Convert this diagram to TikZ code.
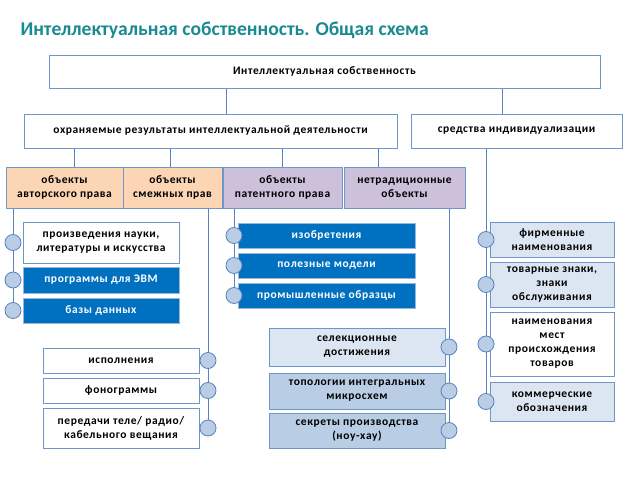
\documentclass[tikz,border=0pt]{standalone}
\usepackage{fontspec}
\setmainfont{Carlito}
\newfontfamily\boxfont[LetterSpace=5]{Carlito}
\usetikzlibrary{positioning}

\definecolor{titleteal}{RGB}{26,138,146}
\definecolor{boxline}{RGB}{110,150,200}
\definecolor{linkc}{RGB}{90,130,190}
\definecolor{peach}{RGB}{252,213,180}
\definecolor{lavender}{RGB}{204,192,218}
\definecolor{deepblue}{RGB}{0,112,192}
\definecolor{paleblue}{RGB}{220,230,242}
\definecolor{midblue}{RGB}{185,205,229}

\begin{document}
\begin{tikzpicture}[x=1pt,y=-1pt,
  box/.style={draw=boxline,line width=1pt,align=center,inner sep=1pt,
    font=\boxfont\bfseries\fontsize{11.5}{14}\selectfont},
  darkbox/.style={box,fill=deepblue,text=white,draw=boxline!70},
  link/.style={draw=linkc,line width=1pt},
  dot/.style={circle,draw=linkc,fill=midblue,line width=0.8pt,minimum size=16pt,inner sep=0pt}]
\useasboundingbox (0,0) rectangle (638,479);

\node[anchor=west,text=titleteal,font=\bfseries\fontsize{19.6}{22}\selectfont] (title) at (17,30) {Интеллектуальная собственность. Общая схема};

\node[box,minimum width=551pt,minimum height=33pt] (ip) at (324.5,71.5) {Интеллектуальная собственность};
\node[box,minimum width=373pt,minimum height=34pt] (res) at (210.5,131) {охраняемые результаты интеллектуальной деятельности};
\node[box,minimum width=211pt,minimum height=34pt] (ind) at (516.5,131) {средства индивидуализации};

\node[box,fill=peach,minimum width=117pt,minimum height=41pt] (auth) at (64.5,187.5) {объекты\\авторского права};
\node[box,fill=peach,minimum width=99pt,minimum height=41pt] (rel) at (172.5,187.5) {объекты\\смежных прав};
\node[box,fill=lavender,minimum width=119pt,minimum height=41pt] (pat) at (282.5,187.5) {объекты\\патентного права};
\node[box,fill=lavender,minimum width=121pt,minimum height=41pt] (nontr) at (404.5,187.5) {нетрадиционные\\объекты};

% copyright
\node[box,fill=white,minimum width=156pt,minimum height=41pt] (a1) at (101,242.5) {произведения науки,\\литературы и искусства};
\node[darkbox,minimum width=156pt,minimum height=26pt] (a2) at (101,280) {программы для ЭВМ};
\node[darkbox,minimum width=156pt,minimum height=25pt] (a3) at (101,310.5) {базы данных};

% related rights
\node[box,fill=white,minimum width=156pt,minimum height=25pt] (r1) at (121,360.5) {исполнения};
\node[box,fill=white,minimum width=156pt,minimum height=25pt] (r2) at (121,390.5) {фонограммы};
\node[box,fill=white,minimum width=156pt,minimum height=40pt] (r3) at (121,428) {передачи теле/ радио/\\кабельного вещания};

% patent
\node[darkbox,minimum width=177pt,minimum height=25pt] (p1) at (326.5,235.5) {изобретения};
\node[darkbox,minimum width=177pt,minimum height=25pt] (p2) at (326.5,265.5) {полезные модели};
\node[darkbox,minimum width=177pt,minimum height=25pt] (p3) at (326.5,295.5) {промышленные образцы};

% non-traditional
\node[box,fill=paleblue,minimum width=176pt,minimum height=38pt] (n1) at (357,347) {селекционные\\достижения};
\node[box,fill=midblue,minimum width=176pt,minimum height=36pt] (n2) at (357,391) {топологии интегральных\\микросхем};
\node[box,fill=midblue,minimum width=176pt,minimum height=35pt] (n3) at (357,430.5) {секреты производства\\(ноу-хау)};

% individualization
\node[box,fill=paleblue,minimum width=124pt,minimum height=35pt] (i1) at (552,239.5) {фирменные\\наименования};
\node[box,fill=paleblue,minimum width=124pt,minimum height=45pt] (i2) at (552,284.5) {товарные знаки,\\знаки\\обслуживания};
\node[box,fill=white,minimum width=124pt,minimum height=64pt] (i3) at (552,344) {наименования\\мест\\происхождения\\товаров};
\node[box,fill=paleblue,minimum width=124pt,minimum height=39pt] (i4) at (552,401.5) {коммерческие\\обозначения};

\coordinate (xl) at (226,0);
\coordinate (xr) at (502,0);
\coordinate (xa) at (74,0);
\coordinate (xb) at (170,0);
\coordinate (xc) at (282,0);
\coordinate (xd) at (378,0);
\coordinate (la) at (13,0);
\coordinate (lb) at (208,0);
\coordinate (lc) at (234,0);
\coordinate (ld) at (449,0);
\coordinate (le) at (486,0);

\draw[link] (ip.south -| xl) -- (res.north -| xl);
\draw[link] (ip.south -| xr) -- (ind.north -| xr);
\draw[link] (res.south -| xa) -- (auth.north -| xa);
\draw[link] (res.south -| xb) -- (rel.north -| xb);
\draw[link] (res.south -| xc) -- (pat.north -| xc);
\draw[link] (res.south -| xd) -- (nontr.north -| xd);

\draw[link] (auth.south -| la) -- (la |- a3.west);
\draw[link] (rel.south -| lb) -- (lb |- r3.east);
\draw[link] (pat.south -| lc) -- (lc |- p3.west);
\draw[link] (nontr.south -| ld) -- (ld |- n3.east);
\draw[link] (ind.south -| le) -- (le |- i4.west);

\foreach \b in {a1,a2,a3} \node[dot] (d\b) at (la |- \b.west) {};
\foreach \b in {r1,r2,r3} \node[dot] (d\b) at (lb |- \b.east) {};
\foreach \b in {p1,p2,p3} \node[dot] (d\b) at (lc |- \b.west) {};
\foreach \b in {n1,n2,n3} \node[dot] (d\b) at (ld |- \b.east) {};
\foreach \b in {i1,i2,i3,i4} \node[dot] (d\b) at (le |- \b.west) {};
\end{tikzpicture}
\end{document}
